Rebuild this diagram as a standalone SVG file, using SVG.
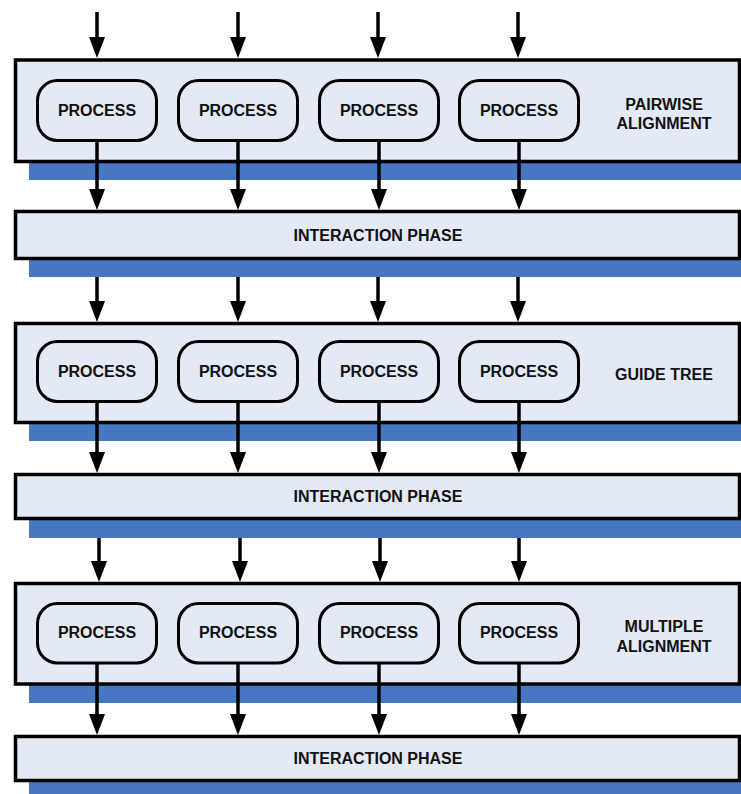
<svg xmlns="http://www.w3.org/2000/svg" width="741" height="794" viewBox="0 0 741 794">
<style>
.shadow{fill:#4677C0;}
.box{fill:#E4EAF5;stroke:#000;stroke-width:3.5;}
.proc{fill:#E4EAF5;stroke:#000;stroke-width:3;}
.t{font-family:"Liberation Sans",Arial,sans-serif;font-weight:bold;font-size:16px;fill:#111;text-anchor:middle;}
.c{stroke:#000;stroke-width:3.5;fill:none;marker-end:url(#ah);}
</style>
<defs>
<marker id="ah" markerUnits="userSpaceOnUse" markerWidth="22" markerHeight="18" viewBox="0 0 22 18" refX="11" refY="9" orient="auto">
<path d="M0,1 L21,9 L0,17 z" fill="#000"/>
</marker>
</defs>
<rect width="741" height="794" fill="#fff"/>

<g id="stage1">
<rect class="shadow" x="29" y="75" width="712" height="105"/>
<rect class="box" x="15.5" y="60" width="724" height="101.5"/>
<text class="t" x="664" y="110">PAIRWISE</text>
<text class="t" x="664" y="129">ALIGNMENT</text>
</g>
<g id="p1a"><rect class="proc" x="37.5" y="80.5" width="119" height="60" rx="20"/><text class="t" x="97" y="116">PROCESS</text></g>
<g id="p1b"><rect class="proc" x="178.5" y="80.5" width="119" height="60" rx="20"/><text class="t" x="238" y="116">PROCESS</text></g>
<g id="p1c"><rect class="proc" x="319.5" y="80.5" width="119" height="60" rx="20"/><text class="t" x="379" y="116">PROCESS</text></g>
<g id="p1d"><rect class="proc" x="459.5" y="80.5" width="119" height="60" rx="20"/><text class="t" x="519" y="116">PROCESS</text></g>
<g id="ip1">
<rect class="shadow" x="29" y="226" width="712" height="51"/>
<rect class="box" x="15.5" y="211.5" width="724" height="47"/>
<text class="t" x="378" y="240.5">INTERACTION PHASE</text>
</g>

<g id="stage2">
<rect class="shadow" x="29" y="338" width="712" height="103"/>
<rect class="box" x="15.5" y="323.5" width="724" height="99"/>
<text class="t" x="664" y="380">GUIDE TREE</text>
</g>
<g id="p2a"><rect class="proc" x="37.5" y="341.5" width="119" height="60" rx="20"/><text class="t" x="97" y="377">PROCESS</text></g>
<g id="p2b"><rect class="proc" x="178.5" y="341.5" width="119" height="60" rx="20"/><text class="t" x="238" y="377">PROCESS</text></g>
<g id="p2c"><rect class="proc" x="319.5" y="341.5" width="119" height="60" rx="20"/><text class="t" x="379" y="377">PROCESS</text></g>
<g id="p2d"><rect class="proc" x="459.5" y="341.5" width="119" height="60" rx="20"/><text class="t" x="519" y="377">PROCESS</text></g>
<g id="ip2">
<rect class="shadow" x="29" y="489" width="712" height="49"/>
<rect class="box" x="15.5" y="474.5" width="724" height="44"/>
<text class="t" x="378" y="502">INTERACTION PHASE</text>
</g>

<g id="stage3">
<rect class="shadow" x="29" y="598" width="712" height="105"/>
<rect class="box" x="15.5" y="583.5" width="724" height="100.5"/>
<text class="t" x="664" y="632">MULTIPLE</text>
<text class="t" x="664" y="652">ALIGNMENT</text>
</g>
<g id="p3a"><rect class="proc" x="37.5" y="603.5" width="119" height="59.5" rx="20"/><text class="t" x="97" y="638">PROCESS</text></g>
<g id="p3b"><rect class="proc" x="178.5" y="603.5" width="119" height="59.5" rx="20"/><text class="t" x="238" y="638">PROCESS</text></g>
<g id="p3c"><rect class="proc" x="319.5" y="603.5" width="119" height="59.5" rx="20"/><text class="t" x="379" y="638">PROCESS</text></g>
<g id="p3d"><rect class="proc" x="459.5" y="603.5" width="119" height="59.5" rx="20"/><text class="t" x="519" y="638">PROCESS</text></g>
<g id="ip3">
<rect class="shadow" x="29" y="751" width="712" height="44"/>
<rect class="box" x="15.5" y="736.5" width="724" height="44"/>
<text class="t" x="378" y="764">INTERACTION PHASE</text>
</g>

<g id="connectors">
<line class="c" x1="97" y1="12" x2="97" y2="48"/>
<line class="c" x1="238" y1="12" x2="238" y2="48"/>
<line class="c" x1="378" y1="12" x2="378" y2="48"/>
<line class="c" x1="518" y1="12" x2="518" y2="48"/>

<line class="c" x1="97" y1="141" x2="97" y2="200"/>
<line class="c" x1="238" y1="141" x2="238" y2="200"/>
<line class="c" x1="379" y1="141" x2="379" y2="200"/>
<line class="c" x1="519" y1="141" x2="519" y2="200"/>

<line class="c" x1="97" y1="277" x2="97" y2="312"/>
<line class="c" x1="238" y1="277" x2="238" y2="312"/>
<line class="c" x1="378" y1="277" x2="378" y2="312"/>
<line class="c" x1="518" y1="277" x2="518" y2="312"/>

<line class="c" x1="97" y1="402" x2="97" y2="463"/>
<line class="c" x1="238" y1="402" x2="238" y2="463"/>
<line class="c" x1="379" y1="402" x2="379" y2="463"/>
<line class="c" x1="519" y1="402" x2="519" y2="463"/>

<line class="c" x1="99" y1="538" x2="99" y2="572"/>
<line class="c" x1="240" y1="538" x2="240" y2="572"/>
<line class="c" x1="380" y1="538" x2="380" y2="572"/>
<line class="c" x1="519" y1="538" x2="519" y2="572"/>

<line class="c" x1="97" y1="663" x2="97" y2="725"/>
<line class="c" x1="238" y1="663" x2="238" y2="725"/>
<line class="c" x1="379" y1="663" x2="379" y2="725"/>
<line class="c" x1="519" y1="663" x2="519" y2="725"/>
</g>
</svg>
